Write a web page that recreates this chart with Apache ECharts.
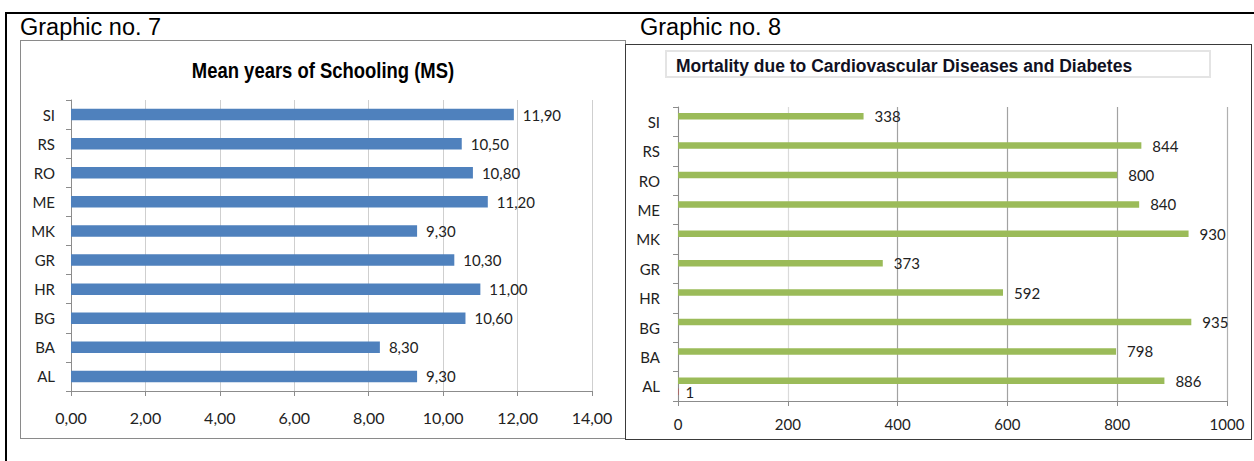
<!DOCTYPE html>
<html>
<head>
<meta charset="utf-8">
<script src="https://cdn.jsdelivr.net/npm/echarts@6/dist/echarts.min.js"></script>
<style>
  html, body { margin: 0; padding: 0; background: #ffffff; }
  #wrap { position: relative; width: 1254px; height: 461px; overflow: hidden; }
  #chart { position: absolute; left: 0; top: 0; width: 1254px; height: 461px; }
  .frame { position: absolute; box-sizing: border-box; pointer-events: none; }
  #rule-top { left: 5px; top: 12px; width: 1249px; height: 2px; background: #000; }
  #rule-left { left: 5px; top: 12px; width: 2px; height: 449px; background: #000; }
  #box-left { left: 20px; top: 40px; width: 606px; height: 399px; border: 1.5px solid #8a8a8a; }
  #box-right { left: 625px; top: 44px; width: 627px; height: 396px; border: 1.5px solid #3a3a3a; }
  #box-title { left: 665px; top: 50px; width: 546px; height: 28px; border: 2px solid #e4e4e4; }
</style>
</head>
<body>
<div id="wrap">
  <div id="chart"></div>
  <div class="frame" id="rule-top"></div>
  <div class="frame" id="rule-left"></div>
  <div class="frame" id="box-left"></div>
  <div class="frame" id="box-right"></div>
  <div class="frame" id="box-title"></div>
</div>
<script>
// Graphic no. 7 — mean years of schooling (bottom-to-top order)
const schoolCountries = ['AL', 'BA', 'BG', 'HR', 'GR', 'MK', 'ME', 'RO', 'RS', 'SI'];
const schoolYears = [9.3, 8.3, 10.6, 11.0, 10.3, 9.3, 11.2, 10.8, 10.5, 11.9];
const schoolTicks = [0, 2, 4, 6, 8, 10, 12, 14];

// Graphic no. 8 — mortality due to cardiovascular diseases and diabetes
const mortCountries = ['AL', 'BA', 'BG', 'HR', 'GR', 'MK', 'ME', 'RO', 'RS', 'SI'];
const mortValues = [886, 798, 935, 592, 373, 930, 840, 800, 844, 338];
// second (nearly empty) series: only AL carries a value
const mortSecond = [1, null, null, null, null, null, null, null, null, null];
const mortTicks = [0, 200, 400, 600, 800, 1000];

const BODY_FONT = 'Lato, "Open Sans", sans-serif';
const HEAD_FONT = '"Liberation Sans", Arial, sans-serif';

const commaFixed = v => Number(v).toFixed(2).replace('.', ',');

const chart = echarts.init(document.getElementById('chart'), null, { renderer: 'svg' });

chart.setOption({
  animation: false,
  backgroundColor: 'transparent',
  title: [
    {
      text: 'Mortality due to Cardiovascular Diseases and Diabetes',
      left: 671, top: 52,
      textStyle: { fontFamily: HEAD_FONT, fontWeight: 'bold', fontSize: 17.5, color: '#111122' }
    }
  ],
  graphic: [
    { type: 'text', x: 20, y: 27, style: { text: 'Graphic no. 7', fontFamily: HEAD_FONT, fontSize: 23.5, fill: '#000', verticalAlign: 'middle' } },
    { type: 'text', x: 640, y: 27, style: { text: 'Graphic no. 8', fontFamily: HEAD_FONT, fontSize: 23.5, fill: '#000', verticalAlign: 'middle' } },
    // condensed bold heading of the schooling chart
    {
      type: 'text', x: 323, y: 70, scaleX: 0.82,
      style: {
        text: 'Mean years of Schooling (MS)', fontFamily: HEAD_FONT, fontWeight: 'bold',
        fontSize: 22.5, fill: '#000', align: 'center', verticalAlign: 'middle'
      }
    }
  ],
  grid: [
    { left: 71, top: 100, width: 521, height: 291, containLabel: false },
    { left: 678, top: 107, width: 549, height: 294, containLabel: false }
  ],
  xAxis: [
    {
      gridIndex: 0, type: 'value',
      min: schoolTicks[0], max: schoolTicks[schoolTicks.length - 1],
      interval: schoolTicks[1] - schoolTicks[0],
      axisLine: { show: true, lineStyle: { color: '#8c8c8c', width: 1 } },
      axisTick: { show: true, length: 5, lineStyle: { color: '#8c8c8c' } },
      splitLine: { show: true, lineStyle: { color: '#cfcfcf', width: 1 } },
      axisLabel: { margin: 18, fontFamily: BODY_FONT, fontSize: 16, color: '#222', formatter: commaFixed }
    },
    {
      gridIndex: 1, type: 'value',
      min: mortTicks[0], max: mortTicks[mortTicks.length - 1],
      interval: mortTicks[1] - mortTicks[0],
      axisLine: { show: true, lineStyle: { color: '#8c8c8c', width: 1 } },
      axisTick: { show: true, length: 5, lineStyle: { color: '#8c8c8c' } },
      splitLine: { show: true, lineStyle: { color: ['#bdbdbd', '#dadada', '#a2a2a2', '#a2a2a2', '#a2a2a2', '#b0b0b0'], width: 1.2 } },
      axisLabel: { margin: 15, fontFamily: BODY_FONT, fontSize: 15, color: '#222', formatter: v => String(v) }
    }
  ],
  yAxis: [
    {
      gridIndex: 0, type: 'category', data: schoolCountries,
      axisLine: { show: true, lineStyle: { color: '#8c8c8c', width: 1 } },
      axisTick: { show: true, length: 5, alignWithLabel: false, lineStyle: { color: '#8c8c8c' } },
      axisLabel: { margin: 16, fontFamily: BODY_FONT, fontSize: 15, color: '#222' }
    },
    {
      gridIndex: 1, type: 'category', data: mortCountries,
      axisLine: { show: true, lineStyle: { color: '#8c8c8c', width: 1 } },
      axisTick: { show: true, length: 5, alignWithLabel: false, lineStyle: { color: '#8c8c8c' } },
      axisLabel: { margin: 18, fontFamily: BODY_FONT, fontSize: 15, color: '#222' }
    }
  ],
  series: [
    {
      type: 'bar', xAxisIndex: 0, yAxisIndex: 0,
      data: schoolYears, barWidth: 11.5,
      itemStyle: { color: '#4f81bd' },
      label: {
        show: true, position: 'right', distance: 9,
        fontFamily: BODY_FONT, fontSize: 15, color: '#222',
        formatter: p => commaFixed(p.value)
      }
    },
    {
      type: 'bar', xAxisIndex: 1, yAxisIndex: 1,
      data: mortValues, barWidth: 6.5, barGap: '70%',
      itemStyle: { color: '#9bbb59' },
      label: {
        show: true, position: 'right', distance: 11,
        fontFamily: BODY_FONT, fontSize: 15, color: '#222'
      }
    },
    {
      type: 'bar', xAxisIndex: 1, yAxisIndex: 1,
      data: mortSecond, barWidth: 6.5,
      itemStyle: { color: '#c0504d' },
      label: {
        show: true, position: 'right', distance: 7,
        fontFamily: BODY_FONT, fontSize: 15, color: '#222'
      }
    }
  ]
});
</script>
</body>
</html>
